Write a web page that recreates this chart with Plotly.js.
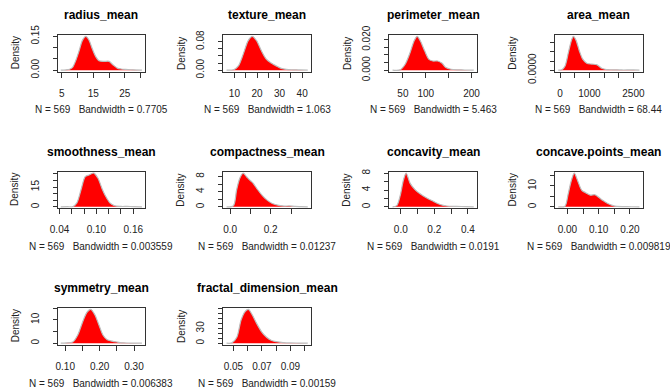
<!DOCTYPE html>
<html><head><meta charset="utf-8">
<script src="https://cdn.plot.ly/plotly-3.0.1.min.js"></script>
<style>html,body{margin:0;padding:0;background:#fff;}#chart{width:670px;height:391px;}</style>
</head><body><div id="chart"></div>
<script>
// ---------------- data ----------------
const nObs = 569;
const titles = ["radius_mean","texture_mean","perimeter_mean","area_mean",
  "smoothness_mean","compactness_mean","concavity_mean","concave.points_mean",
  "symmetry_mean","fractal_dimension_mean"];
const bandwidths = ["0.7705","1.063","5.463","68.44","0.003559","0.01237","0.0191","0.009819","0.006383","0.00159"];

const radius_x = [4.67, 6.3, 7.5, 8.4, 9.5, 10.5, 11.5, 12.6, 13.6, 14.7, 15.8, 16.8, 18.4, 20.0, 21.2, 22.6, 23.8, 25.2, 27.5, 30.42];
const radius_y = [0, 0.001, 0.004, 0.012, 0.045, 0.086, 0.131, 0.150, 0.134, 0.094, 0.059, 0.042, 0.039, 0.039, 0.024, 0.009, 0.005, 0.003, 0.0015, 0];

const texture_x = [6.52, 9.6, 11.75, 13.9, 16.1, 17.9, 19.8, 21.9, 24.1, 26.3, 28.5, 30.7, 33, 36, 39, 42.47];
const texture_y = [0, 0.001, 0.012, 0.045, 0.083, 0.095, 0.083, 0.055, 0.031, 0.020, 0.012, 0.005, 0.002, 0.001, 0.0005, 0];

const perimeter_x = [27.4, 44, 55, 65.6, 74.2, 81.3, 88.5, 97.8, 107, 115.6, 126, 135.7, 144, 155, 170, 185, 204.9];
const perimeter_y = [0, 0.0002, 0.0039, 0.0114, 0.019, 0.0222, 0.019, 0.0125, 0.0071, 0.006, 0.006, 0.0045, 0.0017, 0.0006, 0.0002, 0.0001, 0];

const area_x = [-61.8, 55, 170, 283, 397, 455, 546, 659, 773, 909, 1080, 1250, 1420, 1590, 1800, 2100, 2500, 2706];
const area_y = [0, 0.00002, 0.00023, 0.00096, 0.00168, 0.00185, 0.00163, 0.00105, 0.0006, 0.00038, 0.00033, 0.0003, 0.0001, 0.00003, 0.00002, 0.00001, 0.00001, 0];

const smoothness_x = [0.042, 0.053, 0.0619, 0.0682, 0.075, 0.0818, 0.088, 0.0959, 0.1026, 0.1089, 0.1151, 0.122, 0.1298, 0.14, 0.15, 0.16, 0.1741];
const smoothness_y = [0, 0.1, 0.3, 3, 13, 23, 24.2, 25.7, 21.7, 14.2, 8, 3, 0.8, 0.3, 0.3, 0.2, 0];

const compactness_x = [-0.0177, 0.016, 0.032, 0.048, 0.064, 0.08, 0.096, 0.112, 0.136, 0.16, 0.184, 0.208, 0.24, 0.27, 0.29, 0.32, 0.35, 0.3825];
const compactness_y = [0, 0.3, 4.5, 7.6, 8.9, 8.0, 7.1, 6.3, 4.5, 2.9, 1.7, 0.9, 0.4, 0.2, 0.25, 0.1, 0.05, 0];

const concavity_x = [-0.049, -0.024, -0.004, 0.016, 0.032, 0.056, 0.085, 0.115, 0.155, 0.195, 0.235, 0.275, 0.334, 0.39, 0.435];
const concavity_y = [0, 0.3, 2.6, 6.4, 8.06, 5.6, 4.1, 3.1, 2.1, 1.3, 0.55, 0.2, 0.12, 0.05, 0];

const concavePoints_x = [-0.0295, -0.008, 0.002, 0.012, 0.022, 0.033, 0.046, 0.058, 0.073, 0.088, 0.100, 0.114, 0.129, 0.144, 0.159, 0.18, 0.205, 0.2307];
const concavePoints_y = [0, 0.3, 6, 12.4, 16.2, 12.4, 7.9, 6.8, 5.6, 5.8, 4.6, 3.0, 1.6, 0.7, 0.2, 0.1, 0.05, 0];

const symmetry_x = [0.0869, 0.103, 0.122, 0.136, 0.151, 0.163, 0.174, 0.186, 0.198, 0.21, 0.222, 0.236, 0.25, 0.265, 0.29, 0.3231];
const symmetry_y = [0, 0.1, 0.5, 3.4, 9.3, 13.2, 14.5, 12.2, 7.8, 3.4, 1.5, 0.9, 0.5, 0.15, 0.05, 0];

const fractal_x = [0.04519, 0.0489, 0.0524, 0.0554, 0.0582, 0.0605, 0.0633, 0.0663, 0.0698, 0.0733, 0.0768, 0.0802, 0.0848, 0.09, 0.096, 0.10221];
const fractal_y = [0, 0.5, 12, 47, 64, 68.5, 57, 40, 23, 12, 5.5, 3, 1, 0.4, 0.2, 0];

const curvesX = [radius_x, texture_x, perimeter_x, area_x, smoothness_x, compactness_x, concavity_x, concavePoints_x, symmetry_x, fractal_x];
const curvesY = [radius_y, texture_y, perimeter_y, area_y, smoothness_y, compactness_y, concavity_y, concavePoints_y, symmetry_y, fractal_y];

// tick values and labels
const xTickVals = [
  [5,10,15,20,25,30], [10,15,20,25,30,35,40], [50,100,150,200], [0,500,1000,1500,2000,2500],
  [0.04,0.06,0.08,0.10,0.12,0.14,0.16], [0,0.1,0.2,0.3], [0,0.1,0.2,0.3,0.4], [0,0.05,0.10,0.15,0.20],
  [0.10,0.15,0.20,0.25,0.30], [0.05,0.06,0.07,0.08,0.09,0.10]];
const xTickText = [
  ["5","","15","","25",""], ["10","","20","","30","","40"], ["50","100","","200"], ["0","","1000","","","2500"],
  ["0.04","","","0.10","","","0.16"], ["0.0","","0.2",""], ["0.0","","0.2","","0.4"], ["0.00","","0.10","","0.20"],
  ["0.10","","0.20","","0.30"], ["0.05","","0.07","","0.09",""]];
const yTickVals = [
  [0,0.05,0.10,0.15], [0,0.02,0.04,0.06,0.08], [0,0.005,0.010,0.015,0.020], [0,0.0005,0.0010,0.0015],
  [0,5,10,15,20,25], [0,2,4,6,8], [0,2,4,6,8], [0,5,10,15],
  [0,5,10,15], [0,10,20,30,40,50,60,70]];
const yTickText = [
  ["0.00","","","0.15"], ["0.00","","","","0.08"], ["0.000","","","","0.020"], ["0.0000","","",""],
  ["0","","","15","",""], ["0","","4","","8"], ["0","","4","","8"], ["0","","10",""],
  ["0","","10",""], ["0","","","30","","","",""]];

// ---------------- layout ----------------
const W = 670, H = 391;
const colLeft = [57.5, 223.3, 389.3, 555];
const boxW = 87.7;
const rowTop = [35, 171.7, 308];
const boxH = 36.5;
const FONT = "Liberation Sans, Arial, Helvetica, sans-serif";
const INK = "#222";
const GAP = "\u00a0\u00a0\u00a0";

const traces = [];
const layout = {
  width: W, height: H, margin: {l:0, r:0, t:0, b:0},
  paper_bgcolor: "#fff", plot_bgcolor: "#fff", showlegend: false,
  font: {family: FONT, size: 10, color: INK},
  annotations: []
};

for (let i = 0; i < titles.length; i++) {
  const col = i % 4, row = Math.floor(i / 4);
  const sfx = i === 0 ? "" : String(i + 1);
  const xs = curvesX[i], ys = curvesY[i];
  const lo = Math.min(...xs), hi = Math.max(...xs), pad = 0.04 * (hi - lo);
  const m = Math.max(...ys);
  const L = colLeft[col], T = rowTop[row];

  traces.push({
    type: "scatter", mode: "lines", x: xs, y: ys,
    xaxis: "x" + sfx, yaxis: "y" + sfx,
    fill: "tozeroy", fillcolor: "#ff0000",
    line: {color: "#bdbdbd", width: 1.2, shape: "spline", smoothing: 0.8},
    hoverinfo: "skip"
  });

  layout["xaxis" + sfx] = {
    domain: [L / W, (L + boxW) / W], anchor: "y" + sfx,
    range: [lo - pad, hi + pad],
    tickmode: "array", tickvals: xTickVals[i], ticktext: xTickText[i],
    ticks: "outside", ticklen: 5, tickwidth: 1, tickcolor: "#333",
    tickfont: {family: FONT, size: 10, color: INK}, ticklabelstandoff: 7,
    showline: true, mirror: true, linecolor: "#333", linewidth: 1,
    showgrid: false, zeroline: false, fixedrange: true
  };
  layout["yaxis" + sfx] = {
    domain: [1 - (T + boxH) / H, 1 - T / H], anchor: "x" + sfx,
    range: [-0.04 * m, 1.04 * m],
    tickmode: "array", tickvals: yTickVals[i], ticktext: yTickText[i],
    ticks: "outside", ticklen: 4, tickwidth: 1, tickcolor: "#333",
    tickangle: -90,
    tickfont: {family: FONT, size: 10, color: INK}, ticklabelstandoff: 10,
    showline: true, mirror: true, linecolor: "#333", linewidth: 1,
    showgrid: false, zeroline: false, fixedrange: true
  };

  const cx = (L + boxW / 2) / W;
  layout.annotations.push({
    xref: "paper", yref: "paper", x: cx, y: 1 - (T - 20) / H,
    xanchor: "center", yanchor: "middle", showarrow: false,
    text: "<b>" + titles[i] + "</b>", font: {family: FONT, size: 12, color: "#000"}
  });
  layout.annotations.push({
    xref: "paper", yref: "paper", x: (L - 42.5) / W, y: 1 - (T + boxH / 2) / H,
    xanchor: "center", yanchor: "middle", showarrow: false, textangle: -90,
    text: "Density", font: {family: FONT, size: 10, color: INK}
  });
  layout.annotations.push({
    xref: "paper", yref: "paper", x: cx, y: 1 - (T + boxH + 38.5) / H,
    xanchor: "center", yanchor: "middle", showarrow: false,
    text: "N = " + nObs + GAP + "Bandwidth = " + bandwidths[i],
    font: {family: FONT, size: 10, color: INK}
  });
}

Plotly.newPlot("chart", traces, layout, {staticPlot: true, displayModeBar: false});
</script>
</body></html>
